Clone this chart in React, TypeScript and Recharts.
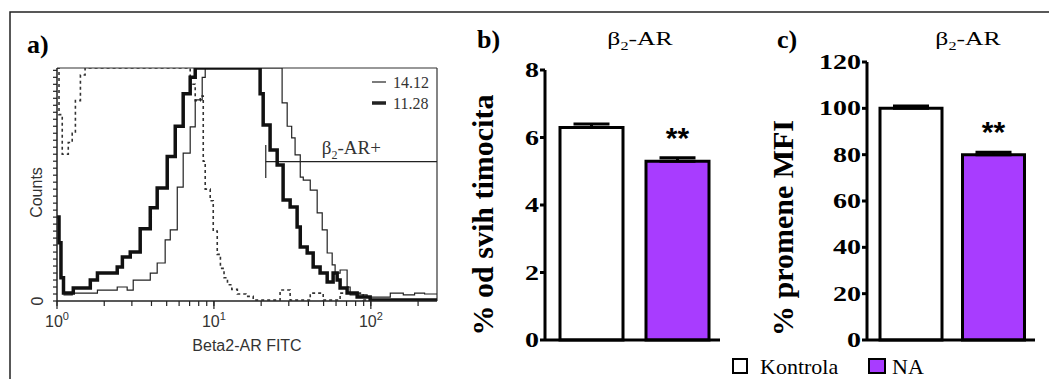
import React from "react";
import {
  LineChart,
  Line,
  XAxis,
  YAxis,
  ReferenceLine,
  BarChart,
  Bar,
  Cell,
  ErrorBar,
  LabelList,
} from "recharts";

// ---- panel a: flow histogram, FITC intensity on log axis ----
const isoFitc = [1.0, 1.03, 1.08, 1.18, 1.25, 1.31, 1.41, 1.51, 6.37, 7.06, 7.6, 8.18, 8.55, 8.8, 9.47, 9.9, 10.5, 11.0, 11.6, 12.2, 13.0, 14.1, 16.0, 17.8, 26.4, 30.6, 41.1, 49.7, 63.7, 89.4, 264];
const isoCounts = [100, 80, 63, 68, 72, 86, 97, 100, 100, 93, 86, 88, 60, 48, 43, 30, 20, 14, 10, 7, 5, 3, 2, 0.4, 4.7, 0.4, 3.4, 0.4, 3.4, 0.4, 0.4];

const ctrlFitc = [1.1, 1.25, 1.81, 2.42, 2.8, 3.06, 3.93, 4.35, 4.89, 5.27, 5.84, 6.37, 7.06, 7.6, 8.42, 8.8, 27.2, 29.3, 31.3, 32.9, 35.5, 37.1, 41.1, 45.5, 49.0, 52.7, 56.7, 59.2, 63.7, 70.6, 73.8, 94.7, 133, 161, 190, 220, 264];
const ctrlCounts = [2.6, 3.4, 4.7, 6.0, 4.7, 9.0, 12, 16.3, 26.2, 30.5, 48.9, 63.5, 74.7, 86.3, 96, 100, 85, 75, 70, 62.7, 53.2, 51.9, 47.6, 37.8, 30.5, 20.6, 15.5, 12, 13.3, 6.0, 2.6, 1.7, 3.4, 2.6, 3.4, 3.0, 3.0];

const naFitc = [1.0, 1.03, 1.06, 1.1, 1.27, 1.63, 1.81, 2.42, 2.61, 2.93, 3.39, 3.93, 4.35, 5.04, 5.67, 6.37, 7.06, 7.6, 19.7, 20.6, 22.8, 25.3, 27.6, 30.6, 33.9, 35.5, 39.3, 42.9, 47.5, 52.7, 57.5, 61.0, 63.7, 70.6, 81.8, 99, 264];
const naCounts = [36, 25, 10, 3.4, 5.6, 9.0, 12.0, 14.6, 18.9, 21, 31, 40, 48.5, 62, 75, 89, 96, 100, 89, 75.5, 64.8, 58.4, 43.3, 40.3, 31.8, 23.2, 20.6, 14.6, 12.0, 8.2, 12, 9, 5.6, 3.4, 1.7, 0.4, 0.4];

const fitcTicks = [1, 2, 3, 4, 5, 6, 7, 8, 9, 10, 20, 30, 40, 50, 60, 70, 80, 90, 100, 200];
const fitcMajor = [1, 10, 100];
const countTicks = [0, 3, 6, 9, 12, 15, 18, 21, 24, 27, 30, 33, 36, 39, 42, 45, 48, 51, 54, 57, 60, 63, 66, 69, 72, 75, 78, 81, 84, 87, 90, 93, 96, 99];
const histLegend = ["14.12", "11.28"];
const gateFitc = [21.4, 264];
const gateLevel = 59.8;
const gateTick = [52.8, 67];

// ---- panels b, c ----
const groups = ["Kontrola", "NA"];
const groupColors = ["#ffffff", "#a83cff"];
const pctThymo = [6.3, 5.3];
const pctThymoSem = [0.1, 0.1];
const mfiChange = [100, 80];
const mfiSem = [1, 1];
const signif = ["", "**"];
const pctTicks = [0, 2, 4, 6, 8];
const mfiTicks = [0, 20, 40, 60, 80, 100, 120];

const serif = '"Liberation Serif", "Times New Roman", serif';
const sans = '"Liberation Sans", Arial, sans-serif';

const zip = (xs: number[], ys: number[]) => xs.map((x, i) => ({ fitc: x, count: ys[i] }));
const isoData = zip(isoFitc, isoCounts);
const ctrlData = zip(ctrlFitc, ctrlCounts);
const naData = zip(naFitc, naCounts);

const FitcTick = (props: any) => {
  const { x, y, payload } = props;
  if (!fitcMajor.includes(payload.value)) return null;
  const axisY = y - 7;
  return (
    <g>
      <line x1={x} x2={x} y1={axisY} y2={axisY + 8} stroke="#222" strokeWidth={1.2} />
      <text x={x} y={axisY + 26} textAnchor="middle" fontFamily={sans} fontSize={16} fill="#333">
        <tspan>10</tspan>
        <tspan dy={-7} fontSize={11}>{Math.round(Math.log10(payload.value))}</tspan>
      </text>
    </g>
  );
};

const CountTick = (props: any) => {
  const { x, y, payload } = props;
  if (payload.value !== 0) return null;
  const bx = x - 8;
  return (
    <text x={bx} y={y} transform={`rotate(-90 ${bx} ${y})`} textAnchor="middle" fontFamily={sans} fontSize={16} fill="#333">
      0
    </text>
  );
};

function Histogram() {
  return (
    <LineChart width={460} height={379} margin={{ top: 68, right: 23, bottom: 28, left: 37 }}>
      <XAxis
        dataKey="fitc"
        type="number"
        scale="log"
        domain={[1, 264]}
        allowDataOverflow
        ticks={fitcTicks}
        interval={0}
        tick={<FitcTick />}
        tickSize={5}
        tickLine={{ stroke: "#222", strokeWidth: 1.2 }}
        axisLine={{ stroke: "#222", strokeWidth: 1.5 }}
        height={50}
        label={{ value: "Beta2-AR FITC", position: "insideBottom", offset: 0, fill: "#333", fontSize: 16, fontFamily: sans }}
      />
      <YAxis
        type="number"
        domain={[0, 100]}
        allowDataOverflow
        ticks={countTicks}
        interval={0}
        tick={<CountTick />}
        tickSize={4}
        tickLine={{ stroke: "#222", strokeWidth: 1.2 }}
        axisLine={{ stroke: "#222", strokeWidth: 1.5 }}
        width={20}
        label={(p: any) => {
          const vb = p.viewBox || { x: 37, y: 68, height: 233 };
          const lx = vb.x + 5;
          const ly = vb.y + vb.height / 2 + 8;
          return (
            <text x={lx} y={ly} transform={`rotate(-90 ${lx} ${ly})`} textAnchor="middle" fontFamily={sans} fontSize={16} fill="#333">
              Counts
            </text>
          );
        }}
      />
      <ReferenceLine y={100} stroke="#333" strokeWidth={1.2} />
      <ReferenceLine x={264} stroke="#333" strokeWidth={1.2} />
      <ReferenceLine
        segment={[{ x: gateFitc[0], y: gateTick[0] }, { x: gateFitc[0], y: gateTick[1] }]}
        stroke="#222"
        strokeWidth={1.2}
      />
      <ReferenceLine
        segment={[{ x: gateFitc[0], y: gateLevel }, { x: gateFitc[1], y: gateLevel }]}
        stroke="#222"
        strokeWidth={1.2}
        label={(p: any) => {
          const vb = p.viewBox || { x: 266, y: 162 };
          return (
            <text x={vb.x + 56} y={vb.y - 8} fontFamily={serif} fontSize={19} fill="#333">
              β<tspan dy={5} fontSize={12}>2</tspan>
              <tspan dy={-5}>-AR+</tspan>
            </text>
          );
        }}
      />
      <Line data={isoData} dataKey="count" type="stepAfter" stroke="#333" strokeWidth={1.6} strokeDasharray="3 3" dot={false} isAnimationActive={false} />
      <Line data={ctrlData} dataKey="count" type="stepAfter" stroke="#222" strokeWidth={1.2} dot={false} isAnimationActive={false} />
      <Line data={naData} dataKey="count" type="stepAfter" stroke="#111" strokeWidth={3.5} dot={false} isAnimationActive={false} />
    </LineChart>
  );
}

const WideTick = (props: any) => {
  const { x, y, payload } = props;
  return (
    <text transform={`translate(${x} ${y + 7}) scale(1.4 1)`} textAnchor="end" fontFamily={serif} fontWeight="bold" fontSize={20} fill="#000">
      {payload.value}
    </text>
  );
};

const SigLabel = (p: any) => {
  const vb = p.viewBox || p;
  if (!p.value) return null;
  return (
    <text x={vb.x + vb.width / 2} y={vb.y - 13} textAnchor="middle" fontFamily={sans} fontWeight="bold" fontSize={30} fill="#000">
      {p.value}
    </text>
  );
};

interface PanelProps {
  left: number;
  width: number;
  top: number;
  marginLeft: number;
  axisWidth: number;
  marginRight: number;
  values: number[];
  sems: number[];
  ticks: number[];
  label: string;
  labelDx: number;
  labelDy: number;
  barSize: number;
}

function BarPanel(p: PanelProps) {
  const data = groups.map((g, i) => ({ group: g, value: p.values[i], sem: [0, p.sems[i]], sig: signif[i] }));
  const max = p.ticks[p.ticks.length - 1];
  return (
    <div style={{ position: "absolute", left: p.left, top: 0 }}>
      <BarChart width={p.width} height={354} data={data} margin={{ top: p.top, right: p.marginRight, bottom: 13, left: p.marginLeft }}>
        <XAxis dataKey="group" tick={false} tickLine={false} axisLine={{ stroke: "#000", strokeWidth: 3 }} height={1} padding={{ left: 3, right: 0 }} />
        <YAxis
          domain={[0, max]}
          ticks={p.ticks}
          interval={0}
          tick={<WideTick />}
          tickSize={5}
          tickMargin={1}
          tickLine={{ stroke: "#000", strokeWidth: 3 }}
          axisLine={{ stroke: "#000", strokeWidth: 3 }}
          width={p.axisWidth}
          label={(lp: any) => {
            const vb = lp.viewBox || { x: p.marginLeft, y: p.top, height: 340 - p.top };
            const lx = vb.x + p.labelDx;
            const ly = vb.y + vb.height / 2 + p.labelDy;
            return (
              <text x={lx} y={ly} transform={`rotate(-90 ${lx} ${ly})`} textAnchor="middle" fontFamily={serif} fontWeight="bold" fontSize={30} fill="#000">
                {p.label}
              </text>
            );
          }}
        />
        <Bar dataKey="value" barSize={p.barSize} stroke="#000" strokeWidth={3} isAnimationActive={false}>
          {data.map((d, i) => (
            <Cell key={d.group} fill={groupColors[i]} />
          ))}
          <ErrorBar dataKey="sem" width={18} stroke="#000" strokeWidth={3} direction="y" />
          <LabelList dataKey="sig" content={(lp: any) => <SigLabel {...lp} />} />
        </Bar>
      </BarChart>
    </div>
  );
}

const Title = ({ x, y }: { x: number; y: number }) => (
  <text transform={`translate(${x} ${y}) scale(1.35 1)`} textAnchor="middle" fontFamily={serif} fontSize={19} fill="#000">
    β<tspan dy={5} fontSize={12}>2</tspan>
    <tspan dy={-5}>-AR</tspan>
  </text>
);

export default function App() {
  return (
    <div style={{ position: "absolute", left: 0, top: 0, width: 1049, height: 379, background: "#fff", overflow: "hidden" }}>
      <div style={{ position: "absolute", left: 0, top: 0 }}>
        <Histogram />
      </div>
      <BarPanel
        left={460}
        width={280}
        top={70}
        marginLeft={35}
        axisWidth={50}
        marginRight={20}
        values={pctThymo}
        sems={pctThymoSem}
        ticks={pctTicks}
        label="% od svih timocita"
        labelDx={-2}
        labelDy={10}
        barSize={63}
      />
      <BarPanel
        left={760}
        width={289}
        top={62}
        marginLeft={47}
        axisWidth={60}
        marginRight={14}
        values={mfiChange}
        sems={mfiSem}
        ticks={mfiTicks}
        label="% promene MFI"
        labelDx={-14}
        labelDy={27}
        barSize={62}
      />
      <svg width={1049} height={379} style={{ position: "absolute", left: 0, top: 0, pointerEvents: "none" }}>
        <path d="M10 379 V12 H1049" stroke="#222" strokeWidth={1.5} fill="none" />
        <text x={27} y={53} fontFamily={serif} fontWeight="bold" fontSize={26} fill="#000">a)</text>
        <text x={477} y={48} fontFamily={serif} fontWeight="bold" fontSize={26} fill="#000">b)</text>
        <text x={777} y={48} fontFamily={serif} fontWeight="bold" fontSize={26} fill="#000">c)</text>
        <Title x={640} y={45} />
        <Title x={968} y={45} />
        {histLegend.map((t, i) => (
          <g key={t}>
            <line x1={372} x2={386} y1={82 + i * 21} y2={82 + i * 21} stroke="#222" strokeWidth={i === 0 ? 1.2 : 3.5} />
            <text x={393} y={87.5 + i * 21} fontFamily={serif} fontSize={16} fill="#333">{t}</text>
          </g>
        ))}
        {groups.map((g, i) => (
          <g key={g}>
            <rect x={i === 0 ? 733 : 869} y={359} width={i === 0 ? 14 : 16} height={14} fill={groupColors[i]} stroke="#000" strokeWidth={2} />
            <text x={i === 0 ? 760 : 892} y={374} fontFamily={serif} fontSize={22} fill="#000">{g}</text>
          </g>
        ))}
      </svg>
    </div>
  );
}
